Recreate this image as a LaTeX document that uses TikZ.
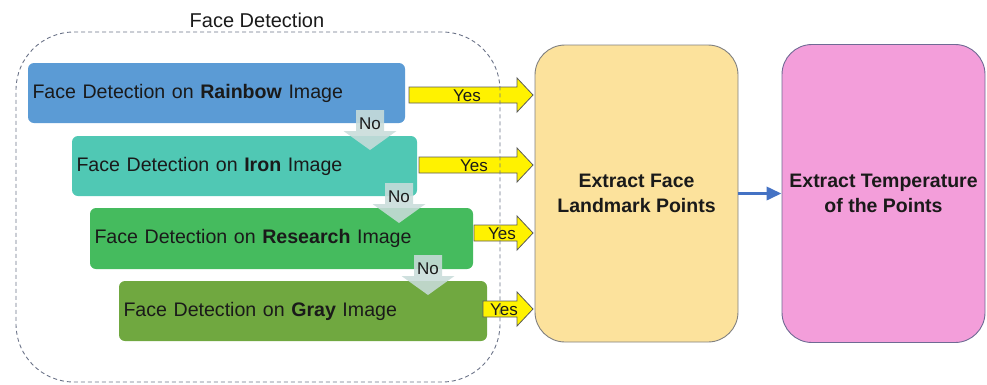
\documentclass[tikz,border=0pt]{standalone}
\usepackage{fontspec}
\setmainfont{Liberation Sans}
\usetikzlibrary{calc,arrows.meta}

\definecolor{txt}{HTML}{1A1A1A}
\definecolor{rainbowc}{HTML}{5B9BD5}
\definecolor{ironc}{HTML}{50C8B4}
\definecolor{researchc}{HTML}{45BB5E}
\definecolor{grayc}{HTML}{70A840}
\definecolor{landc}{HTML}{FCE29C}
\definecolor{landline}{HTML}{808080}
\definecolor{tempc}{HTML}{F39EDA}
\definecolor{templine}{HTML}{6F6A94}
\definecolor{noc}{HTML}{C8DCDA}
\definecolor{yesline}{HTML}{5A5A5A}
\definecolor{framec}{HTML}{6B7388}
\definecolor{flowc}{HTML}{4472C4}

% down arrow labelled "No": name, centre x, top y
\newcommand\noarrow[3]{%
  \fill[noc, opacity=0.88] (#2-14,#3) -- (#2+14,#3) -- (#2+14,#3+21)
    -- (#2+26.5,#3+21) -- (#2,#3+40) -- (#2-26.5,#3+21) -- (#2-14,#3+21) -- cycle;
  \node[smalllabel] (#1) at (#2,#3+13.5) {No};}

% right block arrow labelled "Yes": name, start x, centre y, label x
\newcommand\yesarrow[4]{%
  \draw[yesarrowstyle] (#2,#3-8) -- (517,#3-8) -- (517,#3-17) -- (533,#3)
    -- (517,#3+17) -- (517,#3+8) -- (#2,#3+8) -- cycle;
  \node[smalllabel] (#1) at (#4,#3+1) {Yes};}

\begin{document}
\begin{tikzpicture}[x=1pt,y=-1pt,
  every node/.style={text=txt},
  stage/.style={rounded corners=6pt, inner xsep=4.5pt, inner ysep=0pt,
    align=left, font=\fontsize{19.6}{24}\selectfont},
  bigbox/.style={rounded corners=30pt, draw, line width=0.9pt,
    align=center, font=\fontsize{19.5}{25}\selectfont\bfseries,
    minimum width=203pt},
  smalllabel/.style={inner sep=0pt, font=\fontsize{17}{19}\selectfont},
  yesarrowstyle/.style={fill=yellow, draw=yesline, line width=0.8pt},
  frame/.style={draw=framec, line width=0.9pt, dash pattern=on 4pt off 3pt,
    rounded corners=58pt},
  flow/.style={draw=flowc, line width=3.5pt,
    -{Triangle[length=15pt,width=13pt]}}]

\useasboundingbox (0,0) rectangle (987,384);

% detection stages
\node[stage, fill=rainbowc, minimum width=377pt, minimum height=60pt, text width=368pt]
  (rainbow) at (216.5,93) {Face Detection on \textbf{Rainbow} Image};
\node[stage, fill=ironc, minimum width=345pt, minimum height=60pt, text width=336pt]
  (iron) at (244.5,166) {Face Detection on \textbf{Iron} Image};
\node[stage, fill=researchc, minimum width=383pt, minimum height=61pt, text width=374pt]
  (research) at (281.5,238.5) {Face Detection on \textbf{Research} Image};
\node[stage, fill=grayc, minimum width=368pt, minimum height=60pt, text width=359pt]
  (gray) at (303,311) {Face Detection on \textbf{Gray} Image};

% fall-through arrows between stages
\noarrow{no1}{370}{110}
\noarrow{no2}{399}{183}
\noarrow{no3}{428}{255}

% landmark and temperature steps
\node[bigbox, fill=landc, draw=landline, minimum height=297pt]
  (land) at (636.5,193.5) {Extract Face\\Landmark Points};
\node[bigbox, fill=tempc, draw=templine, minimum height=298pt]
  (temp) at (883.5,193.5) {Extract Temperature\\of the Points};

% success arrows into the landmark step
\yesarrow{yes1}{409}{95}{467}
\yesarrow{yes2}{419}{165}{474}
\yesarrow{yes3}{474}{233}{502}
\yesarrow{yes4}{483}{309}{504}

\draw[flow] (land) -- (temp);

% group frame and its title
\node[frame, minimum width=484pt, minimum height=350pt] (group) at (258,207) {};
\node[font=\fontsize{20}{24}\selectfont, inner sep=0pt] (title) at (257,20) {Face Detection};

\end{tikzpicture}
\end{document}
